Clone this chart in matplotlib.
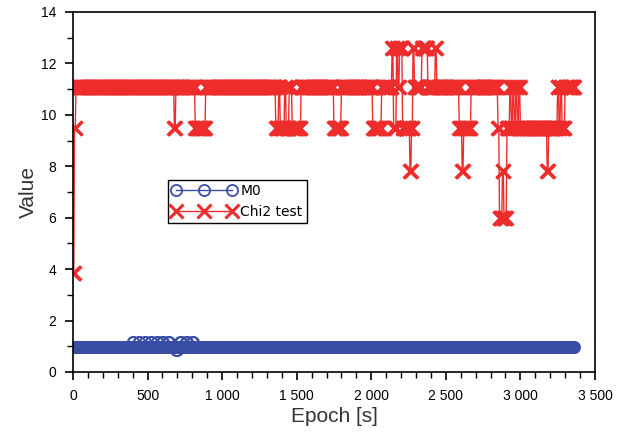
import numpy as np
import matplotlib
matplotlib.use("Agg")
import matplotlib.pyplot as plt
from matplotlib.ticker import MultipleLocator, FuncFormatter

# sample epochs (s)
epoch_step = 5
epoch_last = 3360

# Chi2 test: level holds from each break epoch until the next one
chi2_break_epochs = [0, 10, 20,
                     680, 690,
                     820, 890,
                     1360, 1380, 1390, 1420, 1430, 1450, 1470, 1530,
                     1750, 1800,
                     2010, 2070, 2140, 2150, 2170, 2180, 2190, 2210, 2260, 2270,
                     2280, 2290, 2340, 2380, 2430, 2440,
                     2590, 2610, 2620, 2670,
                     2850, 2860, 2880, 2890, 2910, 2930, 2940, 2950, 2960, 2970,
                     2980, 2990, 3000, 3180, 3190, 3250, 3260, 3270, 3280, 3300]
chi2_break_levels = [3.84, 9.49, 11.07,
                     9.49, 11.07,
                     9.49, 11.07,
                     9.49, 11.07, 9.49, 11.07, 9.49, 11.07, 9.49, 11.07,
                     9.49, 11.07,
                     9.49, 11.07, 12.59, 9.49, 12.59, 11.07, 12.59, 9.49, 7.81, 9.49,
                     12.59, 11.07, 12.59, 11.07, 12.59, 11.07,
                     9.49, 7.81, 9.49, 11.07,
                     9.49, 5.99, 7.81, 5.99, 9.49, 11.07, 9.49, 11.07, 9.49, 11.07,
                     9.49, 11.07, 9.49, 7.81, 9.49, 11.07, 9.49, 11.07, 9.49, 11.07]

# M0
m0_break_epochs = [0, 400, 410, 440, 450, 480, 490, 520, 530, 560, 570,
                   600, 610, 640, 650, 690, 700, 720, 730, 760, 770, 800, 810]
m0_break_levels = [0.97, 1.17, 0.97, 1.17, 0.97, 1.17, 0.97, 1.17, 0.97, 1.17, 0.97,
                   1.17, 0.97, 1.17, 0.97, 0.85, 0.97, 1.17, 0.97, 1.17, 0.97, 1.17, 0.97]


def decode(epochs, starts, levels):
    idx = np.searchsorted(starts, epochs, side="right") - 1
    return np.asarray(levels)[idx]


epochs = np.arange(0, epoch_last + 1, epoch_step)
chi2 = decode(epochs, chi2_break_epochs, chi2_break_levels)
m0 = decode(epochs, m0_break_epochs, m0_break_levels)

plt.rcParams['font.family'] = ['Liberation Sans', 'DejaVu Sans']

fig = plt.figure(figsize=(6.3, 4.34), dpi=100)
ax = fig.add_axes([0.1159, 0.1429, 0.8285, 0.8295])

blue = '#3a4da6'
red = '#ee2c2c'

ax.plot(epochs, m0, color=blue, lw=1.0, marker='o', ms=8, mfc='none',
        mew=1.3, label='M0')
ax.plot(epochs, chi2, color=red, lw=1.0, marker='x', ms=10, mew=2.2,
        label='Chi2 test')

ax.set_xlim(0, 3500)
ax.set_ylim(0, 14)
ax.xaxis.set_major_locator(MultipleLocator(500))
ax.xaxis.set_minor_locator(MultipleLocator(100))
ax.yaxis.set_major_locator(MultipleLocator(2))
ax.yaxis.set_minor_locator(MultipleLocator(1))
ax.xaxis.set_major_formatter(FuncFormatter(lambda v, p: f"{int(v):,}".replace(",", " ")))
ax.tick_params(which='major', direction='out', length=6, width=1.2,
               labelsize=10, top=False, right=False, pad=6)
ax.tick_params(which='minor', direction='out', length=4, width=1.0,
               top=False, right=False)
for s in ax.spines.values():
    s.set_linewidth(1.2)

ax.set_xlabel('Epoch [s]', fontsize=15, color='#333333', labelpad=3)
ax.set_ylabel('Value', fontsize=15, color='#333333', labelpad=2)

leg = ax.legend(loc='upper left', bbox_to_anchor=(0.182, 0.533), numpoints=3,
                handlelength=4.6, prop={'family': 'DejaVu Sans', 'size': 10},
                fancybox=False, edgecolor='black',
                framealpha=1, borderpad=0.3, labelspacing=0.5, handletextpad=0.3,
                borderaxespad=0)
leg.get_frame().set_linewidth(1.0)

fig.savefig('out.png', dpi=100)
